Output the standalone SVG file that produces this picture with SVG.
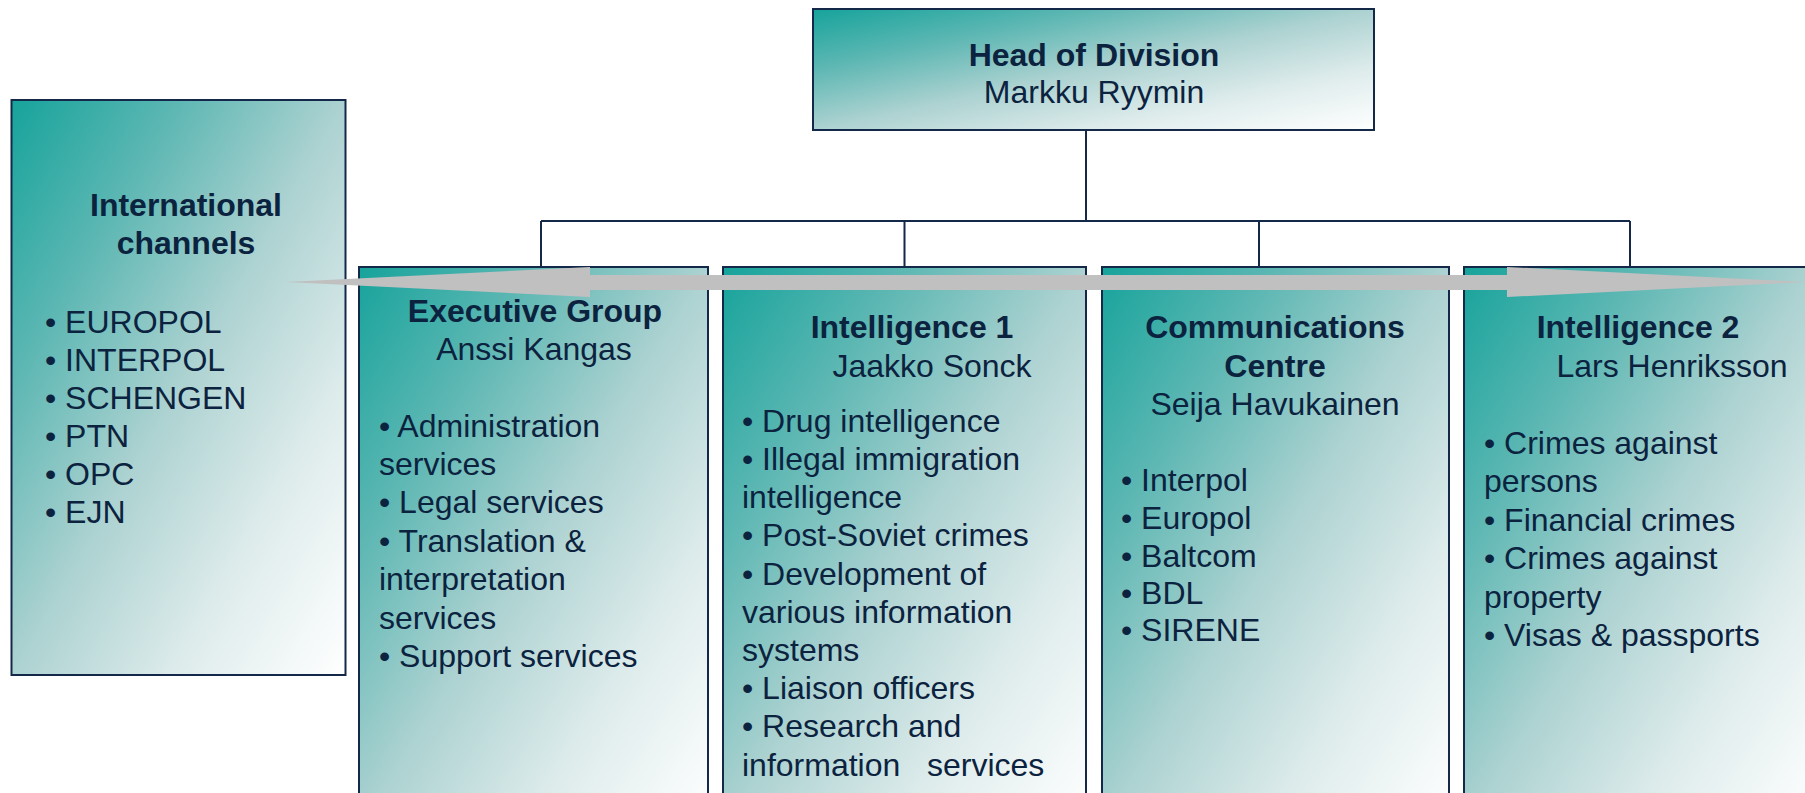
<svg xmlns="http://www.w3.org/2000/svg" width="1805" height="793" viewBox="0 0 1805 793">
<style>
.box{stroke:#14294a;stroke-width:2;fill:url(#g)}
.t{font-family:"Liberation Sans",Arial,sans-serif;font-size:32px;fill:#0c2340}
.b{font-weight:bold}
.c{text-anchor:middle}
.ln{stroke:#14294a;stroke-width:2;fill:none}
</style>
<defs>
<linearGradient id="g" x1="0" y1="0" x2="1" y2="1">
<stop offset="0" stop-color="#16a39b"/>
<stop offset="0.25" stop-color="#5db7b3"/>
<stop offset="0.5" stop-color="#acd2d1"/>
<stop offset="0.75" stop-color="#dfecec"/>
<stop offset="1" stop-color="#ffffff"/>
</linearGradient>
</defs>
<rect width="1805" height="793" fill="#ffffff"/>
<g id="connectors">
<path class="ln" d="M1086 130V221M541 221H1630M541 221V267M904.5 221V267M1259 221V267M1630 221V267"/>
</g>
<g id="head">
<rect class="box" x="813" y="9" width="561" height="121"/>
<text class="t b c" x="1094" y="66">Head of Division</text>
<text class="t c" x="1094" y="103">Markku Ryymin</text>
</g>
<g id="international">
<rect class="box" x="11.5" y="100" width="334" height="575"/>
<text class="t b c" x="186" y="216">International</text>
<text class="t b c" x="186" y="254">channels</text>
<text class="t" x="45" y="333">• EUROPOL</text>
<text class="t" x="45" y="371">• INTERPOL</text>
<text class="t" x="45" y="409">• SCHENGEN</text>
<text class="t" x="45" y="447">• PTN</text>
<text class="t" x="45" y="485">• OPC</text>
<text class="t" x="45" y="523">• EJN</text>
</g>
<g id="executive">
<rect class="box" x="359" y="267" width="349" height="560"/>
<text class="t b c" x="535" y="322">Executive Group</text>
<text class="t c" x="534" y="360">Anssi Kangas</text>
<text class="t" x="379" y="437">• Administration</text>
<text class="t" x="379" y="475">services</text>
<text class="t" x="379" y="513">• Legal services</text>
<text class="t" x="379" y="552">• Translation &amp;</text>
<text class="t" x="379" y="590">interpretation</text>
<text class="t" x="379" y="629">services</text>
<text class="t" x="379" y="667">• Support services</text>
</g>
<g id="intelligence1">
<rect class="box" x="723" y="267" width="363" height="560"/>
<text class="t b c" x="912" y="338">Intelligence 1</text>
<text class="t c" x="932" y="377">Jaakko Sonck</text>
<text class="t" x="742" y="432">• Drug intelligence</text>
<text class="t" x="742" y="470">• Illegal immigration</text>
<text class="t" x="742" y="508">intelligence</text>
<text class="t" x="742" y="546">• Post-Soviet crimes</text>
<text class="t" x="742" y="585">• Development of</text>
<text class="t" x="742" y="623">various information</text>
<text class="t" x="742" y="661">systems</text>
<text class="t" x="742" y="699">• Liaison officers</text>
<text class="t" x="742" y="737">• Research and</text>
<text class="t" x="742" y="776" xml:space="preserve">information   services</text>
</g>
<g id="communications">
<rect class="box" x="1102" y="267" width="347" height="560"/>
<text class="t b c" x="1275" y="338">Communications</text>
<text class="t b c" x="1275" y="377">Centre</text>
<text class="t c" x="1275" y="415">Seija Havukainen</text>
<text class="t" x="1121" y="491">• Interpol</text>
<text class="t" x="1121" y="529">• Europol</text>
<text class="t" x="1121" y="567">• Baltcom</text>
<text class="t" x="1121" y="604">• BDL</text>
<text class="t" x="1121" y="641">• SIRENE</text>
</g>
<g id="intelligence2">
<rect class="box" x="1464" y="267" width="350" height="560"/>
<text class="t b c" x="1638" y="338">Intelligence 2</text>
<text class="t c" x="1672" y="377">Lars Henriksson</text>
<text class="t" x="1484" y="454">• Crimes against</text>
<text class="t" x="1484" y="492">persons</text>
<text class="t" x="1484" y="531">• Financial crimes</text>
<text class="t" x="1484" y="569">• Crimes against</text>
<text class="t" x="1484" y="608">property</text>
<text class="t" x="1484" y="646">• Visas &amp; passports</text>
</g>
<g id="arrow">
<polygon fill="#c0c0c0" points="286,282 590,267 590,275 1507,275 1507,267 1806,282 1507,297 1507,290 590,290 590,297"/>
</g>
</svg>
